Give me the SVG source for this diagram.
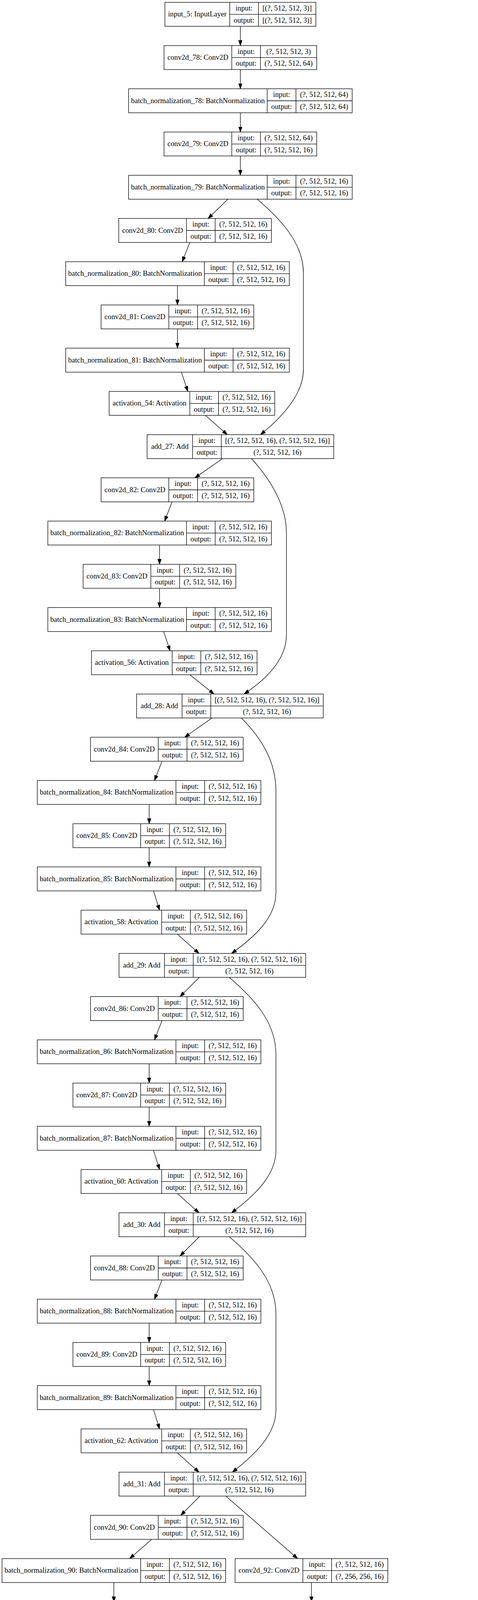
<svg xmlns="http://www.w3.org/2000/svg" width="1224" height="7156" viewBox="0 0 1224 7156">
<style>
.nd rect{fill:#fff;stroke:#000;stroke-width:1.33}
.nd path{fill:none;stroke:#000;stroke-width:1.33}
text{font-family:"Liberation Serif","Times New Roman",serif;font-size:18.67px;text-anchor:middle;fill:#000}
#edges path{fill:none;stroke:#000;stroke-width:1.33;marker-end:url(#ah)}
</style>
<defs>
<marker id="ah" markerUnits="userSpaceOnUse" markerWidth="14" markerHeight="10" refX="13.3" refY="4.7" orient="auto"><path d="M0,0L13.3,4.7L0,9.4z" fill="#000" stroke="#000" stroke-width="1"/></marker>
</defs>
<rect width="1224" height="7156" fill="#fff"/>
<g id="edges">
<path d="M615.5,67.33L615.5,116.67"/>
<path d="M615.5,178L615.5,227.33"/>
<path d="M615.5,288.67L615.5,338"/>
<path d="M615.5,399.33L615.5,448.67"/>
<path d="M583.5,510L532.8,559.33"/>
<path d="M658.5,510C730,570 777,630 777,700L777,945C777,1010 720,1070 667,1112.67"/>
<path d="M486,620.67L466.6,670"/>
<path d="M454.4,731.33L454.4,780.67"/>
<path d="M454.4,842L454.4,891.33"/>
<path d="M464.5,952.67L481,1002"/>
<path d="M526,1063.33L582,1112.67"/>
<path d="M570,1174L499,1223.33"/>
<path d="M644,1174C690,1225 733.5,1290 733.5,1365L733.5,1625C733.5,1690 680,1740 625,1776.67"/>
<path d="M440.7,1284.67L421.6,1334"/>
<path d="M408.5,1395.33L408.5,1444.67"/>
<path d="M408.5,1506L408.5,1555.33"/>
<path d="M419,1616.67L435.5,1666"/>
<path d="M486,1727.33L548,1776.67"/>
<path d="M543,1838L473,1887.33"/>
<path d="M618,1838C670,1890 706.6,1950 706.6,2025L706.6,2285C706.6,2350 650,2400 593,2440.67"/>
<path d="M414.8,1948.67L395.7,1998"/>
<path d="M382,2059.33L382,2108.67"/>
<path d="M382,2170L382,2219.33"/>
<path d="M393,2280.67L408.6,2330"/>
<path d="M454,2391.33L509.5,2440.67"/>
<path d="M510.5,2502L461,2551.33"/>
<path d="M587,2502C655,2560 706.6,2620 706.6,2700L706.6,2945C706.6,3010 650,3062 593,3104.67"/>
<path d="M414.8,2612.67L395.7,2662"/>
<path d="M382,2723.33L382,2772.67"/>
<path d="M382,2834L382,2883.33"/>
<path d="M393,2944.67L408.6,2994"/>
<path d="M454,3055.33L509.5,3104.67"/>
<path d="M510.5,3166L461,3215.33"/>
<path d="M587,3166C655,3224 706.6,3284 706.6,3364L706.6,3609C706.6,3674 650,3726 595,3768.67"/>
<path d="M414.8,3276.67L395.7,3326"/>
<path d="M382,3387.33L382,3436.67"/>
<path d="M382,3498L382,3547.33"/>
<path d="M393,3608.67L408.6,3658"/>
<path d="M454,3719.33L509.5,3768.67"/>
<path d="M512,3830L462.7,3879.33"/>
<path d="M578.4,3830L762,3990"/>
<path d="M388.5,3940.67L332,3990"/>
<path d="M291.5,4051.33L291.5,4100.67"/>
<path d="M797.5,4051.33L797.5,4100.67"/>
<path d="M317,4162L355.6,4211.33"/>
<path d="M397,4272.67L418,4322"/>
<path d="M477,4383.33L541.7,4432.67"/>
<path d="M795,4162C792,4300 745,4380 663,4432.67"/>
<path d="M556.5,4494L506.5,4543.33"/>
<path d="M625,4494L807.4,4654"/>
<path d="M434.6,4604.67L376.7,4654"/>
<path d="M336.7,4715.33L336.7,4764.67"/>
<path d="M842.9,4715.33L842.9,4764.67"/>
<path d="M364,4826L401,4875.33"/>
<path d="M443,4936.67L461,4986"/>
<path d="M522,5047.33L590,5096.67"/>
<path d="M840,4826C837,4964 790,5044 708,5096.67"/>
<path d="M602,5158L552,5207.33"/>
<path d="M672,5158L852,5318"/>
<path d="M476.8,5268.67L419.7,5318"/>
<path d="M380.3,5379.33L381.6,5428.67"/>
<path d="M890.2,5379.33L890.2,5428.67"/>
<path d="M407,5490L444.7,5539.33"/>
<path d="M485.4,5600.67L505,5650"/>
<path d="M564,5711.33L633,5760.67"/>
<path d="M887,5490C884,5628 837,5708 756.6,5760.67"/>
<path d="M646,5822L598.7,5871.33"/>
<path d="M715,5822L896.5,5982"/>
<path d="M526,5932.67L467.4,5982"/>
<path d="M428.4,6043.33L428.4,6092.67"/>
<path d="M933,6043.33L933,6092.67"/>
<path d="M453,6154L492.4,6203.33"/>
<path d="M534,6264.67L556.5,6314"/>
<path d="M616,6375.33L684,6424.67"/>
<path d="M930,6154C927,6292 880,6372 798,6424.67"/>
<path d="M727,6486L727,6535.33"/>
<path d="M727,6596.67L727,6646"/>
<path d="M727,6707.33L727,6756.67"/>
<path d="M727,6818L727,6867.33"/>
<path d="M727,6928.67L727,6978"/>
<path d="M727,7039.33L727,7088.67"/>
</g>
<g class="nd">
<g id="input_5" transform="translate(422.3,6)"><rect width="386.5" height="61.33"/><path d="M166,0V61.33M239.5,0V61.33M166,30.67H386.5"/><text x="83" y="36.4">input_5: InputLayer</text><text x="202.75" y="21">input:</text><text x="202.75" y="51.7">output:</text><text x="313" y="21">[(?, 512, 512, 3)]</text><text x="313" y="51.7">[(?, 512, 512, 3)]</text></g>
<g id="conv2d_78" transform="translate(420,116.67)"><rect width="391" height="61.33"/><path d="M173.5,0V61.33M247,0V61.33M173.5,30.67H391"/><text x="86.75" y="36.4">conv2d_78: Conv2D</text><text x="210.25" y="21">input:</text><text x="210.25" y="51.7">output:</text><text x="319" y="21">(?, 512, 512, 3)</text><text x="319" y="51.7">(?, 512, 512, 64)</text></g>
<g id="batch_normalization_78" transform="translate(329.3,227.33)"><rect width="572.5" height="61.33"/><path d="M355,0V61.33M428.5,0V61.33M355,30.67H572.5"/><text x="177.5" y="36.4">batch_normalization_78: BatchNormalization</text><text x="391.75" y="21">input:</text><text x="391.75" y="51.7">output:</text><text x="500.5" y="21">(?, 512, 512, 64)</text><text x="500.5" y="51.7">(?, 512, 512, 64)</text></g>
<g id="conv2d_79" transform="translate(420,338)"><rect width="391" height="61.33"/><path d="M173.5,0V61.33M247,0V61.33M173.5,30.67H391"/><text x="86.75" y="36.4">conv2d_79: Conv2D</text><text x="210.25" y="21">input:</text><text x="210.25" y="51.7">output:</text><text x="319" y="21">(?, 512, 512, 64)</text><text x="319" y="51.7">(?, 512, 512, 16)</text></g>
<g id="batch_normalization_79" transform="translate(329.3,448.67)"><rect width="572.5" height="61.33"/><path d="M355,0V61.33M428.5,0V61.33M355,30.67H572.5"/><text x="177.5" y="36.4">batch_normalization_79: BatchNormalization</text><text x="391.75" y="21">input:</text><text x="391.75" y="51.7">output:</text><text x="500.5" y="21">(?, 512, 512, 16)</text><text x="500.5" y="51.7">(?, 512, 512, 16)</text></g>
<g id="conv2d_80" transform="translate(304,559.33)"><rect width="391" height="61.33"/><path d="M173.5,0V61.33M247,0V61.33M173.5,30.67H391"/><text x="86.75" y="36.4">conv2d_80: Conv2D</text><text x="210.25" y="21">input:</text><text x="210.25" y="51.7">output:</text><text x="319" y="21">(?, 512, 512, 16)</text><text x="319" y="51.7">(?, 512, 512, 16)</text></g>
<g id="batch_normalization_80" transform="translate(168.3,670)"><rect width="572.5" height="61.33"/><path d="M355,0V61.33M428.5,0V61.33M355,30.67H572.5"/><text x="177.5" y="36.4">batch_normalization_80: BatchNormalization</text><text x="391.75" y="21">input:</text><text x="391.75" y="51.7">output:</text><text x="500.5" y="21">(?, 512, 512, 16)</text><text x="500.5" y="51.7">(?, 512, 512, 16)</text></g>
<g id="conv2d_81" transform="translate(258.8,780.67)"><rect width="391" height="61.33"/><path d="M173.5,0V61.33M247,0V61.33M173.5,30.67H391"/><text x="86.75" y="36.4">conv2d_81: Conv2D</text><text x="210.25" y="21">input:</text><text x="210.25" y="51.7">output:</text><text x="319" y="21">(?, 512, 512, 16)</text><text x="319" y="51.7">(?, 512, 512, 16)</text></g>
<g id="batch_normalization_81" transform="translate(168.3,891.33)"><rect width="572.5" height="61.33"/><path d="M355,0V61.33M428.5,0V61.33M355,30.67H572.5"/><text x="177.5" y="36.4">batch_normalization_81: BatchNormalization</text><text x="391.75" y="21">input:</text><text x="391.75" y="51.7">output:</text><text x="500.5" y="21">(?, 512, 512, 16)</text><text x="500.5" y="51.7">(?, 512, 512, 16)</text></g>
<g id="activation_54" transform="translate(279.5,1002)"><rect width="424" height="61.33"/><path d="M206.5,0V61.33M280,0V61.33M206.5,30.67H424"/><text x="103.25" y="36.4">activation_54: Activation</text><text x="243.25" y="21">input:</text><text x="243.25" y="51.7">output:</text><text x="352" y="21">(?, 512, 512, 16)</text><text x="352" y="51.7">(?, 512, 512, 16)</text></g>
<g id="add_27" transform="translate(376.6,1112.67)"><rect width="478" height="61.33"/><path d="M116.5,0V61.33M190,0V61.33M116.5,30.67H478"/><text x="58.25" y="36.4">add_27: Add</text><text x="153.25" y="21">input:</text><text x="153.25" y="51.7">output:</text><text x="334" y="21">[(?, 512, 512, 16), (?, 512, 512, 16)]</text><text x="334" y="51.7">(?, 512, 512, 16)</text></g>
<g id="conv2d_82" transform="translate(258.8,1223.33)"><rect width="391" height="61.33"/><path d="M173.5,0V61.33M247,0V61.33M173.5,30.67H391"/><text x="86.75" y="36.4">conv2d_82: Conv2D</text><text x="210.25" y="21">input:</text><text x="210.25" y="51.7">output:</text><text x="319" y="21">(?, 512, 512, 16)</text><text x="319" y="51.7">(?, 512, 512, 16)</text></g>
<g id="batch_normalization_82" transform="translate(122.5,1334)"><rect width="572.5" height="61.33"/><path d="M355,0V61.33M428.5,0V61.33M355,30.67H572.5"/><text x="177.5" y="36.4">batch_normalization_82: BatchNormalization</text><text x="391.75" y="21">input:</text><text x="391.75" y="51.7">output:</text><text x="500.5" y="21">(?, 512, 512, 16)</text><text x="500.5" y="51.7">(?, 512, 512, 16)</text></g>
<g id="conv2d_83" transform="translate(212.8,1444.67)"><rect width="391" height="61.33"/><path d="M173.5,0V61.33M247,0V61.33M173.5,30.67H391"/><text x="86.75" y="36.4">conv2d_83: Conv2D</text><text x="210.25" y="21">input:</text><text x="210.25" y="51.7">output:</text><text x="319" y="21">(?, 512, 512, 16)</text><text x="319" y="51.7">(?, 512, 512, 16)</text></g>
<g id="batch_normalization_83" transform="translate(122.5,1555.33)"><rect width="572.5" height="61.33"/><path d="M355,0V61.33M428.5,0V61.33M355,30.67H572.5"/><text x="177.5" y="36.4">batch_normalization_83: BatchNormalization</text><text x="391.75" y="21">input:</text><text x="391.75" y="51.7">output:</text><text x="500.5" y="21">(?, 512, 512, 16)</text><text x="500.5" y="51.7">(?, 512, 512, 16)</text></g>
<g id="activation_56" transform="translate(234.3,1666)"><rect width="424" height="61.33"/><path d="M206.5,0V61.33M280,0V61.33M206.5,30.67H424"/><text x="103.25" y="36.4">activation_56: Activation</text><text x="243.25" y="21">input:</text><text x="243.25" y="51.7">output:</text><text x="352" y="21">(?, 512, 512, 16)</text><text x="352" y="51.7">(?, 512, 512, 16)</text></g>
<g id="add_28" transform="translate(349.7,1776.67)"><rect width="478" height="61.33"/><path d="M116.5,0V61.33M190,0V61.33M116.5,30.67H478"/><text x="58.25" y="36.4">add_28: Add</text><text x="153.25" y="21">input:</text><text x="153.25" y="51.7">output:</text><text x="334" y="21">[(?, 512, 512, 16), (?, 512, 512, 16)]</text><text x="334" y="51.7">(?, 512, 512, 16)</text></g>
<g id="conv2d_84" transform="translate(231.7,1887.33)"><rect width="391" height="61.33"/><path d="M173.5,0V61.33M247,0V61.33M173.5,30.67H391"/><text x="86.75" y="36.4">conv2d_84: Conv2D</text><text x="210.25" y="21">input:</text><text x="210.25" y="51.7">output:</text><text x="319" y="21">(?, 512, 512, 16)</text><text x="319" y="51.7">(?, 512, 512, 16)</text></g>
<g id="batch_normalization_84" transform="translate(95.5,1998)"><rect width="572.5" height="61.33"/><path d="M355,0V61.33M428.5,0V61.33M355,30.67H572.5"/><text x="177.5" y="36.4">batch_normalization_84: BatchNormalization</text><text x="391.75" y="21">input:</text><text x="391.75" y="51.7">output:</text><text x="500.5" y="21">(?, 512, 512, 16)</text><text x="500.5" y="51.7">(?, 512, 512, 16)</text></g>
<g id="conv2d_85" transform="translate(186.7,2108.67)"><rect width="391" height="61.33"/><path d="M173.5,0V61.33M247,0V61.33M173.5,30.67H391"/><text x="86.75" y="36.4">conv2d_85: Conv2D</text><text x="210.25" y="21">input:</text><text x="210.25" y="51.7">output:</text><text x="319" y="21">(?, 512, 512, 16)</text><text x="319" y="51.7">(?, 512, 512, 16)</text></g>
<g id="batch_normalization_85" transform="translate(95.5,2219.33)"><rect width="572.5" height="61.33"/><path d="M355,0V61.33M428.5,0V61.33M355,30.67H572.5"/><text x="177.5" y="36.4">batch_normalization_85: BatchNormalization</text><text x="391.75" y="21">input:</text><text x="391.75" y="51.7">output:</text><text x="500.5" y="21">(?, 512, 512, 16)</text><text x="500.5" y="51.7">(?, 512, 512, 16)</text></g>
<g id="activation_58" transform="translate(207.5,2330)"><rect width="424" height="61.33"/><path d="M206.5,0V61.33M280,0V61.33M206.5,30.67H424"/><text x="103.25" y="36.4">activation_58: Activation</text><text x="243.25" y="21">input:</text><text x="243.25" y="51.7">output:</text><text x="352" y="21">(?, 512, 512, 16)</text><text x="352" y="51.7">(?, 512, 512, 16)</text></g>
<g id="add_29" transform="translate(304.7,2440.67)"><rect width="478" height="61.33"/><path d="M116.5,0V61.33M190,0V61.33M116.5,30.67H478"/><text x="58.25" y="36.4">add_29: Add</text><text x="153.25" y="21">input:</text><text x="153.25" y="51.7">output:</text><text x="334" y="21">[(?, 512, 512, 16), (?, 512, 512, 16)]</text><text x="334" y="51.7">(?, 512, 512, 16)</text></g>
<g id="conv2d_86" transform="translate(231.7,2551.33)"><rect width="391" height="61.33"/><path d="M173.5,0V61.33M247,0V61.33M173.5,30.67H391"/><text x="86.75" y="36.4">conv2d_86: Conv2D</text><text x="210.25" y="21">input:</text><text x="210.25" y="51.7">output:</text><text x="319" y="21">(?, 512, 512, 16)</text><text x="319" y="51.7">(?, 512, 512, 16)</text></g>
<g id="batch_normalization_86" transform="translate(95.5,2662)"><rect width="572.5" height="61.33"/><path d="M355,0V61.33M428.5,0V61.33M355,30.67H572.5"/><text x="177.5" y="36.4">batch_normalization_86: BatchNormalization</text><text x="391.75" y="21">input:</text><text x="391.75" y="51.7">output:</text><text x="500.5" y="21">(?, 512, 512, 16)</text><text x="500.5" y="51.7">(?, 512, 512, 16)</text></g>
<g id="conv2d_87" transform="translate(186.7,2772.67)"><rect width="391" height="61.33"/><path d="M173.5,0V61.33M247,0V61.33M173.5,30.67H391"/><text x="86.75" y="36.4">conv2d_87: Conv2D</text><text x="210.25" y="21">input:</text><text x="210.25" y="51.7">output:</text><text x="319" y="21">(?, 512, 512, 16)</text><text x="319" y="51.7">(?, 512, 512, 16)</text></g>
<g id="batch_normalization_87" transform="translate(95.5,2883.33)"><rect width="572.5" height="61.33"/><path d="M355,0V61.33M428.5,0V61.33M355,30.67H572.5"/><text x="177.5" y="36.4">batch_normalization_87: BatchNormalization</text><text x="391.75" y="21">input:</text><text x="391.75" y="51.7">output:</text><text x="500.5" y="21">(?, 512, 512, 16)</text><text x="500.5" y="51.7">(?, 512, 512, 16)</text></g>
<g id="activation_60" transform="translate(207.5,2994)"><rect width="424" height="61.33"/><path d="M206.5,0V61.33M280,0V61.33M206.5,30.67H424"/><text x="103.25" y="36.4">activation_60: Activation</text><text x="243.25" y="21">input:</text><text x="243.25" y="51.7">output:</text><text x="352" y="21">(?, 512, 512, 16)</text><text x="352" y="51.7">(?, 512, 512, 16)</text></g>
<g id="add_30" transform="translate(304.7,3104.67)"><rect width="478" height="61.33"/><path d="M116.5,0V61.33M190,0V61.33M116.5,30.67H478"/><text x="58.25" y="36.4">add_30: Add</text><text x="153.25" y="21">input:</text><text x="153.25" y="51.7">output:</text><text x="334" y="21">[(?, 512, 512, 16), (?, 512, 512, 16)]</text><text x="334" y="51.7">(?, 512, 512, 16)</text></g>
<g id="conv2d_88" transform="translate(231.7,3215.33)"><rect width="391" height="61.33"/><path d="M173.5,0V61.33M247,0V61.33M173.5,30.67H391"/><text x="86.75" y="36.4">conv2d_88: Conv2D</text><text x="210.25" y="21">input:</text><text x="210.25" y="51.7">output:</text><text x="319" y="21">(?, 512, 512, 16)</text><text x="319" y="51.7">(?, 512, 512, 16)</text></g>
<g id="batch_normalization_88" transform="translate(95.5,3326)"><rect width="572.5" height="61.33"/><path d="M355,0V61.33M428.5,0V61.33M355,30.67H572.5"/><text x="177.5" y="36.4">batch_normalization_88: BatchNormalization</text><text x="391.75" y="21">input:</text><text x="391.75" y="51.7">output:</text><text x="500.5" y="21">(?, 512, 512, 16)</text><text x="500.5" y="51.7">(?, 512, 512, 16)</text></g>
<g id="conv2d_89" transform="translate(186.7,3436.67)"><rect width="391" height="61.33"/><path d="M173.5,0V61.33M247,0V61.33M173.5,30.67H391"/><text x="86.75" y="36.4">conv2d_89: Conv2D</text><text x="210.25" y="21">input:</text><text x="210.25" y="51.7">output:</text><text x="319" y="21">(?, 512, 512, 16)</text><text x="319" y="51.7">(?, 512, 512, 16)</text></g>
<g id="batch_normalization_89" transform="translate(95.5,3547.33)"><rect width="572.5" height="61.33"/><path d="M355,0V61.33M428.5,0V61.33M355,30.67H572.5"/><text x="177.5" y="36.4">batch_normalization_89: BatchNormalization</text><text x="391.75" y="21">input:</text><text x="391.75" y="51.7">output:</text><text x="500.5" y="21">(?, 512, 512, 16)</text><text x="500.5" y="51.7">(?, 512, 512, 16)</text></g>
<g id="activation_62" transform="translate(207.5,3658)"><rect width="424" height="61.33"/><path d="M206.5,0V61.33M280,0V61.33M206.5,30.67H424"/><text x="103.25" y="36.4">activation_62: Activation</text><text x="243.25" y="21">input:</text><text x="243.25" y="51.7">output:</text><text x="352" y="21">(?, 512, 512, 16)</text><text x="352" y="51.7">(?, 512, 512, 16)</text></g>
<g id="add_31" transform="translate(304.7,3768.67)"><rect width="478" height="61.33"/><path d="M116.5,0V61.33M190,0V61.33M116.5,30.67H478"/><text x="58.25" y="36.4">add_31: Add</text><text x="153.25" y="21">input:</text><text x="153.25" y="51.7">output:</text><text x="334" y="21">[(?, 512, 512, 16), (?, 512, 512, 16)]</text><text x="334" y="51.7">(?, 512, 512, 16)</text></g>
<g id="conv2d_90" transform="translate(231.7,3879.33)"><rect width="391" height="61.33"/><path d="M173.5,0V61.33M247,0V61.33M173.5,30.67H391"/><text x="86.75" y="36.4">conv2d_90: Conv2D</text><text x="210.25" y="21">input:</text><text x="210.25" y="51.7">output:</text><text x="319" y="21">(?, 512, 512, 16)</text><text x="319" y="51.7">(?, 512, 512, 16)</text></g>
<g id="batch_normalization_90" transform="translate(5.2,3990)"><rect width="572.5" height="61.33"/><path d="M355,0V61.33M428.5,0V61.33M355,30.67H572.5"/><text x="177.5" y="36.4">batch_normalization_90: BatchNormalization</text><text x="391.75" y="21">input:</text><text x="391.75" y="51.7">output:</text><text x="500.5" y="21">(?, 512, 512, 16)</text><text x="500.5" y="51.7">(?, 512, 512, 16)</text></g>
<g id="conv2d_92" transform="translate(602,3990)"><rect width="391" height="61.33"/><path d="M173.5,0V61.33M247,0V61.33M173.5,30.67H391"/><text x="86.75" y="36.4">conv2d_92: Conv2D</text><text x="210.25" y="21">input:</text><text x="210.25" y="51.7">output:</text><text x="319" y="21">(?, 512, 512, 16)</text><text x="319" y="51.7">(?, 256, 256, 16)</text></g>
<g id="conv2d_91" transform="translate(96,4100.67)"><rect width="391" height="61.33"/><path d="M173.5,0V61.33M247,0V61.33M173.5,30.67H391"/><text x="86.75" y="36.4">conv2d_91: Conv2D</text><text x="210.25" y="21">input:</text><text x="210.25" y="51.7">output:</text><text x="319" y="21">(?, 512, 512, 16)</text><text x="319" y="51.7">(?, 512, 512, 16)</text></g>
<g id="batch_normalization_92" transform="translate(511.3,4100.67)"><rect width="572.5" height="61.33"/><path d="M355,0V61.33M428.5,0V61.33M355,30.67H572.5"/><text x="177.5" y="36.4">batch_normalization_92: BatchNormalization</text><text x="391.75" y="21">input:</text><text x="391.75" y="51.7">output:</text><text x="500.5" y="21">(?, 256, 256, 16)</text><text x="500.5" y="51.7">(?, 256, 256, 16)</text></g>
<g id="batch_normalization_91" transform="translate(96.3,4211.33)"><rect width="572.5" height="61.33"/><path d="M355,0V61.33M428.5,0V61.33M355,30.67H572.5"/><text x="177.5" y="36.4">batch_normalization_91: BatchNormalization</text><text x="391.75" y="21">input:</text><text x="391.75" y="51.7">output:</text><text x="500.5" y="21">(?, 512, 512, 16)</text><text x="500.5" y="51.7">(?, 512, 512, 16)</text></g>
<g id="average_pooling2d_12" transform="translate(155.8,4322)"><rect width="554" height="61.33"/><path d="M336.5,0V61.33M410,0V61.33M336.5,30.67H554"/><text x="168.25" y="36.4">average_pooling2d_12: AveragePooling2D</text><text x="373.25" y="21">input:</text><text x="373.25" y="51.7">output:</text><text x="482" y="21">(?, 512, 512, 16)</text><text x="482" y="51.7">(?, 256, 256, 16)</text></g>
<g id="add_32" transform="translate(349.8,4432.67)"><rect width="478" height="61.33"/><path d="M116.5,0V61.33M190,0V61.33M116.5,30.67H478"/><text x="58.25" y="36.4">add_32: Add</text><text x="153.25" y="21">input:</text><text x="153.25" y="51.7">output:</text><text x="334" y="21">[(?, 256, 256, 16), (?, 256, 256, 16)]</text><text x="334" y="51.7">(?, 256, 256, 16)</text></g>
<g id="conv2d_93" transform="translate(277.8,4543.33)"><rect width="391" height="61.33"/><path d="M173.5,0V61.33M247,0V61.33M173.5,30.67H391"/><text x="86.75" y="36.4">conv2d_93: Conv2D</text><text x="210.25" y="21">input:</text><text x="210.25" y="51.7">output:</text><text x="319" y="21">(?, 256, 256, 16)</text><text x="319" y="51.7">(?, 256, 256, 64)</text></g>
<g id="batch_normalization_93" transform="translate(50.2,4654)"><rect width="572.5" height="61.33"/><path d="M355,0V61.33M428.5,0V61.33M355,30.67H572.5"/><text x="177.5" y="36.4">batch_normalization_93: BatchNormalization</text><text x="391.75" y="21">input:</text><text x="391.75" y="51.7">output:</text><text x="500.5" y="21">(?, 256, 256, 64)</text><text x="500.5" y="51.7">(?, 256, 256, 64)</text></g>
<g id="conv2d_95" transform="translate(647.3,4654)"><rect width="391" height="61.33"/><path d="M173.5,0V61.33M247,0V61.33M173.5,30.67H391"/><text x="86.75" y="36.4">conv2d_95: Conv2D</text><text x="210.25" y="21">input:</text><text x="210.25" y="51.7">output:</text><text x="319" y="21">(?, 256, 256, 16)</text><text x="319" y="51.7">(?, 128, 128, 64)</text></g>
<g id="conv2d_94" transform="translate(141.4,4764.67)"><rect width="391" height="61.33"/><path d="M173.5,0V61.33M247,0V61.33M173.5,30.67H391"/><text x="86.75" y="36.4">conv2d_94: Conv2D</text><text x="210.25" y="21">input:</text><text x="210.25" y="51.7">output:</text><text x="319" y="21">(?, 256, 256, 64)</text><text x="319" y="51.7">(?, 256, 256, 64)</text></g>
<g id="batch_normalization_95" transform="translate(556.7,4764.67)"><rect width="572.5" height="61.33"/><path d="M355,0V61.33M428.5,0V61.33M355,30.67H572.5"/><text x="177.5" y="36.4">batch_normalization_95: BatchNormalization</text><text x="391.75" y="21">input:</text><text x="391.75" y="51.7">output:</text><text x="500.5" y="21">(?, 128, 128, 64)</text><text x="500.5" y="51.7">(?, 128, 128, 64)</text></g>
<g id="batch_normalization_94" transform="translate(141.7,4875.33)"><rect width="572.5" height="61.33"/><path d="M355,0V61.33M428.5,0V61.33M355,30.67H572.5"/><text x="177.5" y="36.4">batch_normalization_94: BatchNormalization</text><text x="391.75" y="21">input:</text><text x="391.75" y="51.7">output:</text><text x="500.5" y="21">(?, 256, 256, 64)</text><text x="500.5" y="51.7">(?, 256, 256, 64)</text></g>
<g id="average_pooling2d_13" transform="translate(201.3,4986)"><rect width="554" height="61.33"/><path d="M336.5,0V61.33M410,0V61.33M336.5,30.67H554"/><text x="168.25" y="36.4">average_pooling2d_13: AveragePooling2D</text><text x="373.25" y="21">input:</text><text x="373.25" y="51.7">output:</text><text x="482" y="21">(?, 256, 256, 64)</text><text x="482" y="51.7">(?, 128, 128, 64)</text></g>
<g id="add_33" transform="translate(395.2,5096.67)"><rect width="478" height="61.33"/><path d="M116.5,0V61.33M190,0V61.33M116.5,30.67H478"/><text x="58.25" y="36.4">add_33: Add</text><text x="153.25" y="21">input:</text><text x="153.25" y="51.7">output:</text><text x="334" y="21">[(?, 128, 128, 64), (?, 128, 128, 64)]</text><text x="334" y="51.7">(?, 128, 128, 64)</text></g>
<g id="conv2d_96" transform="translate(315.8,5207.33)"><rect width="400.2" height="61.33"/><path d="M173.5,0V61.33M247,0V61.33M173.5,30.67H400.2"/><text x="86.75" y="36.4">conv2d_96: Conv2D</text><text x="210.25" y="21">input:</text><text x="210.25" y="51.7">output:</text><text x="323.6" y="21">(?, 128, 128, 64)</text><text x="323.6" y="51.7">(?, 128, 128, 128)</text></g>
<g id="batch_normalization_96" transform="translate(89,5318)"><rect width="581.7" height="61.33"/><path d="M355,0V61.33M428.5,0V61.33M355,30.67H581.7"/><text x="177.5" y="36.4">batch_normalization_96: BatchNormalization</text><text x="391.75" y="21">input:</text><text x="391.75" y="51.7">output:</text><text x="505.1" y="21">(?, 128, 128, 128)</text><text x="505.1" y="51.7">(?, 128, 128, 128)</text></g>
<g id="conv2d_98" transform="translate(695.2,5318)"><rect width="391" height="61.33"/><path d="M173.5,0V61.33M247,0V61.33M173.5,30.67H391"/><text x="86.75" y="36.4">conv2d_98: Conv2D</text><text x="210.25" y="21">input:</text><text x="210.25" y="51.7">output:</text><text x="319" y="21">(?, 128, 128, 64)</text><text x="319" y="51.7">(?, 64, 64, 128)</text></g>
<g id="conv2d_97" transform="translate(182,5428.67)"><rect width="400.2" height="61.33"/><path d="M173.5,0V61.33M247,0V61.33M173.5,30.67H400.2"/><text x="86.75" y="36.4">conv2d_97: Conv2D</text><text x="210.25" y="21">input:</text><text x="210.25" y="51.7">output:</text><text x="323.6" y="21">(?, 128, 128, 128)</text><text x="323.6" y="51.7">(?, 128, 128, 128)</text></g>
<g id="batch_normalization_98" transform="translate(607.8,5428.67)"><rect width="563.9" height="61.33"/><path d="M355,0V61.33M428.5,0V61.33M355,30.67H563.9"/><text x="177.5" y="36.4">batch_normalization_98: BatchNormalization</text><text x="391.75" y="21">input:</text><text x="391.75" y="51.7">output:</text><text x="496.2" y="21">(?, 64, 64, 128)</text><text x="496.2" y="51.7">(?, 64, 64, 128)</text></g>
<g id="batch_normalization_97" transform="translate(179.7,5539.33)"><rect width="581.7" height="61.33"/><path d="M355,0V61.33M428.5,0V61.33M355,30.67H581.7"/><text x="177.5" y="36.4">batch_normalization_97: BatchNormalization</text><text x="391.75" y="21">input:</text><text x="391.75" y="51.7">output:</text><text x="505.1" y="21">(?, 128, 128, 128)</text><text x="505.1" y="51.7">(?, 128, 128, 128)</text></g>
<g id="average_pooling2d_14" transform="translate(238,5650)"><rect width="563.2" height="61.33"/><path d="M336.5,0V61.33M410,0V61.33M336.5,30.67H563.2"/><text x="168.25" y="36.4">average_pooling2d_14: AveragePooling2D</text><text x="373.25" y="21">input:</text><text x="373.25" y="51.7">output:</text><text x="486.6" y="21">(?, 128, 128, 128)</text><text x="486.6" y="51.7">(?, 64, 64, 128)</text></g>
<g id="add_34" transform="translate(448,5760.67)"><rect width="460.5" height="61.33"/><path d="M116.5,0V61.33M190,0V61.33M116.5,30.67H460.5"/><text x="58.25" y="36.4">add_34: Add</text><text x="153.25" y="21">input:</text><text x="153.25" y="51.7">output:</text><text x="325.25" y="21">[(?, 64, 64, 128), (?, 64, 64, 128)]</text><text x="325.25" y="51.7">(?, 64, 64, 128)</text></g>
<g id="conv2d_99" transform="translate(374.3,5871.33)"><rect width="382.4" height="61.33"/><path d="M173.5,0V61.33M247,0V61.33M173.5,30.67H382.4"/><text x="86.75" y="36.4">conv2d_99: Conv2D</text><text x="210.25" y="21">input:</text><text x="210.25" y="51.7">output:</text><text x="314.7" y="21">(?, 64, 64, 128)</text><text x="314.7" y="51.7">(?, 64, 64, 256)</text></g>
<g id="batch_normalization_99" transform="translate(147.3,5982)"><rect width="563.9" height="61.33"/><path d="M355,0V61.33M428.5,0V61.33M355,30.67H563.9"/><text x="177.5" y="36.4">batch_normalization_99: BatchNormalization</text><text x="391.75" y="21">input:</text><text x="391.75" y="51.7">output:</text><text x="496.2" y="21">(?, 64, 64, 256)</text><text x="496.2" y="51.7">(?, 64, 64, 256)</text></g>
<g id="conv2d_101" transform="translate(736.7,5982)"><rect width="391.9" height="61.33"/><path d="M183,0V61.33M256.5,0V61.33M183,30.67H391.9"/><text x="91.5" y="36.4">conv2d_101: Conv2D</text><text x="219.75" y="21">input:</text><text x="219.75" y="51.7">output:</text><text x="324.2" y="21">(?, 64, 64, 128)</text><text x="324.2" y="51.7">(?, 32, 32, 256)</text></g>
<g id="conv2d_100" transform="translate(231.6,6092.67)"><rect width="391.9" height="61.33"/><path d="M183,0V61.33M256.5,0V61.33M183,30.67H391.9"/><text x="91.5" y="36.4">conv2d_100: Conv2D</text><text x="219.75" y="21">input:</text><text x="219.75" y="51.7">output:</text><text x="324.2" y="21">(?, 64, 64, 256)</text><text x="324.2" y="51.7">(?, 64, 64, 256)</text></g>
<g id="batch_normalization_101" transform="translate(647.3,6092.67)"><rect width="573.4" height="61.33"/><path d="M364.5,0V61.33M438,0V61.33M364.5,30.67H573.4"/><text x="182.25" y="36.4">batch_normalization_101: BatchNormalization</text><text x="401.25" y="21">input:</text><text x="401.25" y="51.7">output:</text><text x="505.7" y="21">(?, 32, 32, 256)</text><text x="505.7" y="51.7">(?, 32, 32, 256)</text></g>
<g id="batch_normalization_100" transform="translate(231.8,6203.33)"><rect width="573.4" height="61.33"/><path d="M364.5,0V61.33M438,0V61.33M364.5,30.67H573.4"/><text x="182.25" y="36.4">batch_normalization_100: BatchNormalization</text><text x="401.25" y="21">input:</text><text x="401.25" y="51.7">output:</text><text x="505.7" y="21">(?, 64, 64, 256)</text><text x="505.7" y="51.7">(?, 64, 64, 256)</text></g>
<g id="average_pooling2d_15" transform="translate(299,6314)"><rect width="545.4" height="61.33"/><path d="M336.5,0V61.33M410,0V61.33M336.5,30.67H545.4"/><text x="168.25" y="36.4">average_pooling2d_15: AveragePooling2D</text><text x="373.25" y="21">input:</text><text x="373.25" y="51.7">output:</text><text x="477.7" y="21">(?, 64, 64, 256)</text><text x="477.7" y="51.7">(?, 32, 32, 256)</text></g>
<g id="add_35" transform="translate(496.1,6424.67)"><rect width="460.5" height="61.33"/><path d="M116.5,0V61.33M190,0V61.33M116.5,30.67H460.5"/><text x="58.25" y="36.4">add_35: Add</text><text x="153.25" y="21">input:</text><text x="153.25" y="51.7">output:</text><text x="325.25" y="21">[(?, 32, 32, 256), (?, 32, 32, 256)]</text><text x="325.25" y="51.7">(?, 32, 32, 256)</text></g>
<g id="conv2d_102" transform="translate(531,6535.33)"><rect width="391.9" height="61.33"/><path d="M183,0V61.33M256.5,0V61.33M183,30.67H391.9"/><text x="91.5" y="36.4">conv2d_102: Conv2D</text><text x="219.75" y="21">input:</text><text x="219.75" y="51.7">output:</text><text x="324.2" y="21">(?, 32, 32, 256)</text><text x="324.2" y="51.7">(?, 32, 32, 512)</text></g>
<g id="batch_normalization_102" transform="translate(439.8,6646)"><rect width="573.4" height="61.33"/><path d="M364.5,0V61.33M438,0V61.33M364.5,30.67H573.4"/><text x="182.25" y="36.4">batch_normalization_102: BatchNormalization</text><text x="401.25" y="21">input:</text><text x="401.25" y="51.7">output:</text><text x="505.7" y="21">(?, 32, 32, 512)</text><text x="505.7" y="51.7">(?, 32, 32, 512)</text></g>
<g id="conv2d_103" transform="translate(531,6756.67)"><rect width="391.9" height="61.33"/><path d="M183,0V61.33M256.5,0V61.33M183,30.67H391.9"/><text x="91.5" y="36.4">conv2d_103: Conv2D</text><text x="219.75" y="21">input:</text><text x="219.75" y="51.7">output:</text><text x="324.2" y="21">(?, 32, 32, 512)</text><text x="324.2" y="51.7">(?, 32, 32, 512)</text></g>
<g id="batch_normalization_103" transform="translate(439.8,6867.33)"><rect width="573.4" height="61.33"/><path d="M364.5,0V61.33M438,0V61.33M364.5,30.67H573.4"/><text x="182.25" y="36.4">batch_normalization_103: BatchNormalization</text><text x="401.25" y="21">input:</text><text x="401.25" y="51.7">output:</text><text x="505.7" y="21">(?, 32, 32, 512)</text><text x="505.7" y="51.7">(?, 32, 32, 512)</text></g>
<g id="global_average_pooling2d_3" transform="translate(406.6,6978)"><rect width="640.4" height="61.33"/><path d="M431.5,0V61.33M505,0V61.33M431.5,30.67H640.4"/><text x="215.75" y="36.4">global_average_pooling2d_3: GlobalAveragePooling2D</text><text x="468.25" y="21">input:</text><text x="468.25" y="51.7">output:</text><text x="572.7" y="21">(?, 32, 32, 512)</text><text x="572.7" y="51.7">(?, 512)</text></g>
<g id="dense_3" transform="translate(582.7,7088.67)"><rect width="288.4" height="61.33"/><path d="M135.5,0V61.33M209,0V61.33M135.5,30.67H288.4"/><text x="67.75" y="36.4">dense_3: Dense</text><text x="172.25" y="21">input:</text><text x="172.25" y="51.7">output:</text><text x="248.7" y="21">(?, 512)</text><text x="248.7" y="51.7">(?, 1)</text></g>
</g>
</svg>
